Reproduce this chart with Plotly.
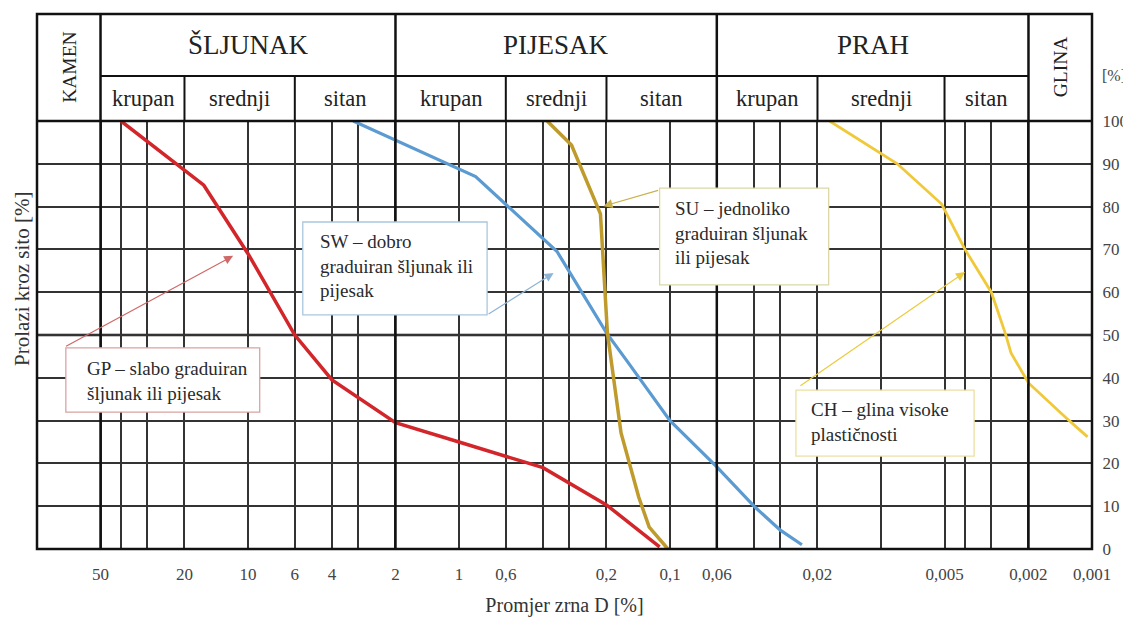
import math
import plotly.graph_objects as go

FONT = "Liberation Serif, Times New Roman, DejaVu Serif, serif"

# ---------------- data (diameter in mm, % passing) ----------------
gp_d = [40, 16.2, 10, 6, 4, 2, 1, 0.4, 0.2, 0.112]
gp_p = [100, 85, 69, 50, 39.5, 29.5, 25, 19, 10.3, 0.5]

sw_d = [3.17, 0.834, 0.343, 0.2, 0.1575, 0.1, 0.06, 0.04, 0.03, 0.0237]
sw_p = [100, 87, 69.5, 50.5, 43.5, 30, 19.2, 10, 4.4, 1]

su_d = [0.382, 0.293, 0.2136, 0.198, 0.1706, 0.1406, 0.1255, 0.1023]
su_p = [100, 94.4, 78.3, 50.5, 27.1, 12.1, 5.1, 0]

ch_d = [0.01753, 0.00837, 0.00516, 0.004, 0.003, 0.00258, 0.00242, 0.002, 0.00129, 0.00105]
ch_p = [100, 90, 80.6, 70, 60, 50.5, 45.8, 38.8, 30.1, 26.2]

x_tick_vals = [50, 20, 10, 6, 4, 2, 1, 0.6, 0.2, 0.1, 0.06, 0.02, 0.005, 0.002, 0.001]
x_tick_text = ["50", "20", "10", "6", "4", "2", "1", "0,6", "0,2", "0,1", "0,06",
               "0,02", "0,005", "0,002", "0,001"]
x_minor_vals = [40, 30, 3, 0.4, 0.3, 0.04, 0.03, 0.01, 0.004, 0.003]
y_tick_vals = [0, 10, 20, 30, 40, 50, 60, 70, 80, 90, 100]

main_groups = ["KAMEN", "ŠLJUNAK", "PIJESAK", "PRAH", "GLINA"]
main_bounds = [100, 50, 2, 0.06, 0.002, 0.001]
sub_labels = ["krupan", "srednji", "sitan", "krupan", "srednji", "sitan",
              "krupan", "srednji", "sitan"]
sub_bounds = [50, 20, 6, 2, 0.6, 0.2, 0.06, 0.02, 0.005, 0.002]

box_texts = [
    "GP – slabo graduiran<br>šljunak ili pijesak",
    "SW – dobro<br>graduiran šljunak ili<br>pijesak",
    "SU – jednoliko<br>graduiran šljunak<br>ili pijesak",
    "CH – glina visoke<br>plastičnosti",
]

# ---------------- layout config ----------------
RED, BLUE, GOLD, YEL = "#d2262a", "#5b9bd2", "#bf9a2c", "#f0c93a"
GRID = "#333333"
L = math.log10

boxes = [
    dict(x0=73, x1=8.8, y0=32, y1=47, tx=59, ty=39.3, border="#d9a3a3"),
    dict(x0=5.5, x1=0.736, y0=54.7, y1=76.4, tx=4.67, ty=66.1, border="#a9c7df"),
    dict(x0=0.112, x1=0.0177, y0=61.7, y1=84.3, tx=0.0965, ty=73.8, border="#dcd8a8"),
    dict(x0=0.0253, x1=0.00362, y0=21.7, y1=37.1, tx=0.022, ty=29.6, border="#ece0a4"),
]
arrows = [
    dict(tail=(74, 47.2), tip=(11.76, 68.5), color="#d06868"),
    dict(tail=(0.736, 54.7), tip=(0.356, 64.5), color="#8fb4d4"),
    dict(tail=(0.112, 83.9), tip=(0.2067, 80.1), color="#c9b24a"),
    dict(tail=(0.0245, 37.9), tip=(0.004, 64.7), color="#eccb3c"),
]

fig = go.Figure()
for d, p, c, w in [(gp_d, gp_p, RED, 3.5), (sw_d, sw_p, BLUE, 3.2),
                   (su_d, su_p, GOLD, 3.5), (ch_d, ch_p, YEL, 2.8)]:
    fig.add_trace(go.Scatter(x=d, y=p, mode="lines", line=dict(color=c, width=w),
                             showlegend=False, hoverinfo="skip"))

shapes = []
annos = []
TOP = 1.25      # paper y of header top
MID = 1.105     # paper y of header middle line

shapes.append(dict(type="rect", xref="paper", yref="paper", x0=0, x1=1, y0=0, y1=TOP,
                   line=dict(color="#111", width=2.5), layer="above"))
shapes.append(dict(type="line", xref="paper", yref="paper", x0=0, x1=1, y0=1, y1=1,
                   line=dict(color="#111", width=2.5), layer="above"))
shapes.append(dict(type="line", xref="paper", yref="y", x0=0, x1=1, y0=50, y1=50,
                   line=dict(color="#111", width=2.5), layer="below"))
shapes.append(dict(type="line", xref="x", yref="paper", x0=main_bounds[1], x1=main_bounds[-2],
                   y0=MID, y1=MID, line=dict(color="#111", width=2)))
for b in main_bounds[1:-1]:
    shapes.append(dict(type="line", xref="x", yref="paper", x0=b, x1=b, y0=0, y1=TOP,
                       line=dict(color="#111", width=2.5), layer="above"))
for b in sub_bounds[1:-1]:
    if b in main_bounds:
        continue
    shapes.append(dict(type="line", xref="x", yref="paper", x0=b, x1=b, y0=1, y1=MID,
                       line=dict(color="#111", width=2)))

for i, name in enumerate(main_groups):
    xc = (L(main_bounds[i]) + L(main_bounds[i + 1])) / 2
    if name in ("KAMEN", "GLINA"):
        annos.append(dict(text=name, xref="x", yref="paper", x=xc, y=1.126, showarrow=False,
                          xanchor="center", yanchor="middle", textangle=-90,
                          font=dict(family=FONT, size=19.5, color="#222")))
    else:
        annos.append(dict(text=name, xref="x", yref="paper", x=xc, y=1.178, showarrow=False,
                          xanchor="center", yanchor="middle",
                          font=dict(family=FONT, size=27, color="#222")))
for i, name in enumerate(sub_labels):
    xc = (L(sub_bounds[i]) + L(sub_bounds[i + 1])) / 2
    annos.append(dict(text=name, xref="x", yref="paper", x=xc, y=1.052, showarrow=False,
                      xanchor="center", yanchor="middle",
                      font=dict(family=FONT, size=22.5, color="#222")))

for bx, txt in zip(boxes, box_texts):
    shapes.append(dict(type="rect", xref="x", yref="y", x0=bx["x0"], x1=bx["x1"],
                       y0=bx["y0"], y1=bx["y1"], fillcolor="white",
                       line=dict(color=bx["border"], width=1.3), layer="above"))
    annos.append(dict(text=txt, xref="x", yref="y", x=L(bx["tx"]), y=bx["ty"],
                      xanchor="left", yanchor="middle", align="left", showarrow=False,
                      font=dict(family=FONT, size=19, color="#2a2a2a")))
for a in arrows:
    annos.append(dict(text="", xref="x", yref="y", x=L(a["tip"][0]), y=a["tip"][1],
                      axref="x", ayref="y", ax=L(a["tail"][0]), ay=a["tail"][1],
                      showarrow=True, arrowhead=2, arrowsize=1.5, arrowwidth=1.2,
                      arrowcolor=a["color"]))

annos.append(dict(text="Prolazi kroz sito [%]", xref="paper", yref="paper", x=-0.0142, y=0.631,
                  xanchor="center", yanchor="middle", textangle=-90, showarrow=False,
                  font=dict(family=FONT, size=21, color="#333")))
annos.append(dict(text="[%]", xref="paper", yref="paper", x=1, xshift=8, xanchor="left",
                  yanchor="middle", y=1.107, showarrow=False,
                  font=dict(family=FONT, size=16, color="#444")))

# page body has an 8px margin: figure is 1123x621 so it ends at the window edge
fig.update_layout(
    width=1123, height=621,
    margin=dict(l=29, r=39, t=113, b=80, autoexpand=False),
    paper_bgcolor="white", plot_bgcolor="white",
    shapes=shapes, annotations=annos,
    font=dict(family=FONT, color="#444"),
    xaxis=dict(type="log", range=[2, -3], tickmode="array", tickvals=x_tick_vals,
               ticktext=x_tick_text, showgrid=True, gridcolor=GRID, gridwidth=1.6,
               ticks="outside", ticklen=10, tickcolor="rgba(0,0,0,0)", automargin=False,
               tickfont=dict(family=FONT, size=17, color="#444"),
               minor=dict(tickmode="array", tickvals=x_minor_vals, showgrid=True,
                          gridcolor=GRID, gridwidth=1.6, ticks=""),
               zeroline=False, showline=False,
               title=dict(text="Promjer zrna D [%]", standoff=14,
                          font=dict(family=FONT, size=20, color="#333"))),
    yaxis=dict(range=[0, 100], side="right", tickmode="array", tickvals=y_tick_vals,
               showgrid=True, gridcolor=GRID, gridwidth=1.6, zeroline=False,
               ticks="outside", ticklen=6, tickcolor="rgba(0,0,0,0)", automargin=False,
               tickfont=dict(family=FONT, size=17, color="#444"), showline=False),
)

fig.write_html("out.html")
